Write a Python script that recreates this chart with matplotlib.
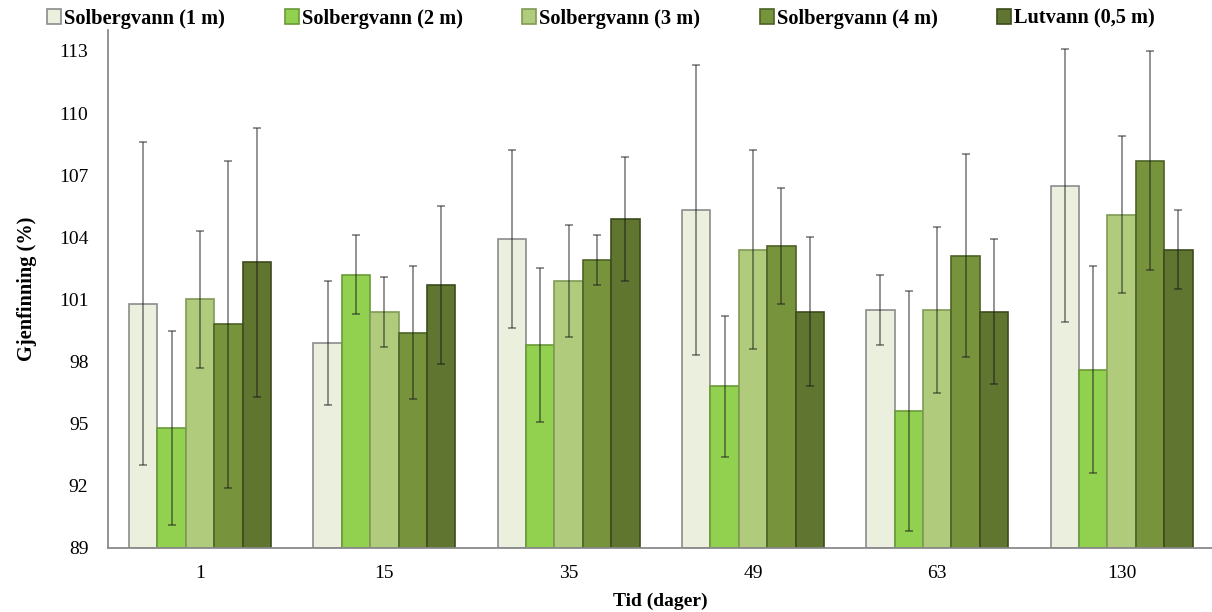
import numpy as np
import matplotlib
matplotlib.use("Agg")
import matplotlib.pyplot as plt

plt.rcParams['font.family'] = ['Liberation Serif', 'DejaVu Serif']

# Gjenfinning (%) per tidspunkt og prøvested
dager = ['1', '15', '35', '49', '63', '130']
serier = ['Solbergvann (1 m)', 'Solbergvann (2 m)', 'Solbergvann (3 m)',
          'Solbergvann (4 m)', 'Lutvann (0,5 m)']

sol_1m = [100.8, 98.9, 103.9, 105.3, 100.5, 106.5]
sol_2m = [94.8, 102.2, 98.8, 96.8, 95.6, 97.6]
sol_3m = [101.0, 100.4, 101.9, 103.4, 100.5, 105.1]
sol_4m = [99.8, 99.4, 102.9, 103.6, 103.1, 107.7]
lutvann = [102.8, 101.7, 104.9, 100.4, 100.4, 103.4]

# standardavvik
sd_1m = [7.8, 3.0, 4.3, 7.0, 1.7, 6.6]
sd_2m = [4.7, 1.9, 3.7, 3.4, 5.8, 5.0]
sd_3m = [3.3, 1.7, 2.7, 4.8, 4.0, 3.8]
sd_4m = [7.9, 3.2, 1.2, 2.8, 4.9, 5.3]
sd_lut = [6.5, 3.8, 3.0, 3.6, 3.5, 1.9]

verdier = [sol_1m, sol_2m, sol_3m, sol_4m, lutvann]
avvik = [sd_1m, sd_2m, sd_3m, sd_4m, sd_lut]

farger = ['#ebf0de', '#92d050', '#b0cb7c', '#77933c', '#5f7530']
kanter = ['#8c8c8c', '#6a9a38', '#7f9a55', '#4d6226', '#3c4c1c']

fig = plt.figure(figsize=(12.12, 6.12), dpi=100)
ax = fig.add_axes([0.089, 0.1046, 0.9124, 0.846])

x = np.arange(len(dager))
bredde = 0.154
for i in range(len(serier)):
    pos = x + (i - 2) * bredde
    ax.bar(pos, np.array(verdier[i]) - 89, bottom=89, width=bredde,
           color=farger[i], edgecolor=kanter[i], linewidth=1.2,
           label=serier[i], zorder=2)
    ax.errorbar(pos, verdier[i], yerr=avvik[i], fmt='none',
                ecolor='#1a1a1a', alpha=0.6, elinewidth=1.1,
                capsize=3, capthick=1.1, zorder=3)

ax.set_xlim(-0.5, len(dager) - 0.5)
ax.set_ylim(89, 114)
ax.set_yticks(np.arange(89, 114, 3))
ax.set_xticks(x)
ax.set_xticklabels(dager)
ax.tick_params(axis='both', length=0, labelsize=14)
ax.tick_params(axis='x', pad=12)
ax.tick_params(axis='y', pad=14)

for s in ['top', 'right']:
    ax.spines[s].set_visible(False)
for s in ['left', 'bottom']:
    ax.spines[s].set_color('#8a8a8a')
    ax.spines[s].set_linewidth(1.3)

ax.set_xlabel('Tid (dager)', fontsize=14, fontweight='bold', labelpad=8)
ax.set_ylabel('Gjenfinning (%)', fontsize=14.7, fontweight='bold', labelpad=16)

leg = fig.legend(loc='upper center', bbox_to_anchor=(0.496, 1.016), ncol=5,
                 frameon=False, handlelength=0.7, handleheight=0.7,
                 handletextpad=0.15, columnspacing=2.9,
                 prop={'weight': 'bold', 'size': 14.7})

fig.savefig('out.png', dpi=100)
